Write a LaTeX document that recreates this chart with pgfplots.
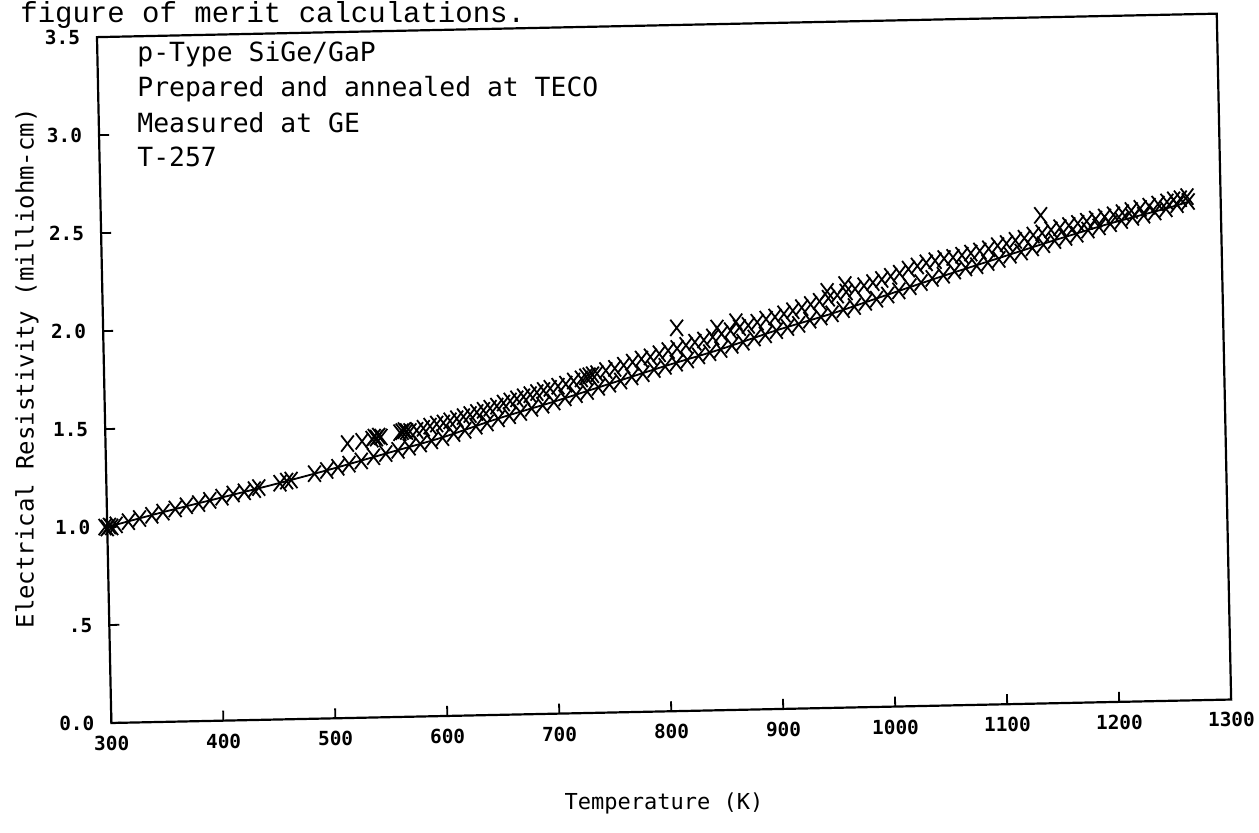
\documentclass[border=0pt]{standalone}
\usepackage{fontspec}
\usepackage{pgfplots}
\usepackage{pgfplotstable}
\pgfplotsset{compat=1.18}
\newfontfamily\plotfont{DejaVu Sans Mono}
\newfontfamily\tickfont{DejaVu Sans Mono Bold}
\newfontfamily\typefont{Liberation Mono}

\pgfplotstableread{
T R
298 1.00
300 0.995
302 1.005
304 1.00
308 1.01
319 1.025
329 1.04
340 1.055
350 1.07
361 1.085
371 1.10
382 1.11
392 1.125
403 1.14
413 1.155
423 1.165
432 1.175
436 1.185
455 1.205
461 1.215
465 1.22
486 1.25
497 1.265
507 1.28
517 1.295
528 1.31
539 1.33
550 1.345
561 1.36
571 1.375
581 1.39
591 1.405
601 1.42
611 1.44
621 1.455
631 1.475
641 1.49
651 1.51
661 1.525
671 1.54
681 1.56
691 1.575
701 1.59
711 1.61
721 1.625
731 1.64
741 1.66
751 1.675
761 1.69
771 1.71
781 1.725
791 1.745
801 1.76
811 1.775
821 1.79
831 1.81
841 1.825
851 1.84
861 1.86
871 1.875
881 1.895
891 1.91
901 1.93
911 1.945
921 1.96
931 1.98
941 1.995
951 2.01
961 2.03
971 2.045
981 2.065
991 2.08
1001 2.10
1011 2.12
1021 2.14
1031 2.16
1041 2.18
1051 2.195
1061 2.215
1071 2.23
1081 2.24
1091 2.255
1101 2.27
1111 2.29
1121 2.305
1131 2.325
1141 2.34
1151 2.36
1161 2.375
1171 2.39
1181 2.41
1191 2.425
1201 2.44
1211 2.455
1221 2.47
1231 2.48
1241 2.495
1251 2.51
1261 2.53
1271 2.545
}\lowband

\pgfplotstableread{
T R
516 1.40
529 1.41
538 1.42
540 1.43
542 1.425
544 1.435
546 1.43
563 1.45
565 1.455
567 1.46
569 1.455
572 1.455
578 1.46
584 1.47
590 1.48
596 1.49
602 1.495
608 1.505
614 1.515
620 1.525
626 1.535
632 1.545
638 1.555
644 1.565
650 1.575
656 1.59
662 1.60
668 1.61
674 1.62
680 1.63
686 1.64
692 1.65
698 1.66
705 1.67
712 1.68
719 1.695
726 1.705
730 1.715
733 1.72
736 1.725
740 1.73
748 1.745
756 1.755
764 1.77
772 1.785
780 1.80
788 1.81
796 1.825
804 1.84
812 1.85
820 1.865
828 1.88
836 1.89
844 1.905
852 1.92
860 1.935
868 1.95
876 1.96
884 1.975
892 1.99
900 2.00
908 2.015
916 2.03
924 2.045
932 2.06
940 2.075
948 2.09
956 2.105
964 2.12
972 2.135
980 2.15
988 2.165
996 2.18
1004 2.195
1012 2.21
1020 2.23
1028 2.245
1036 2.26
1044 2.27
1052 2.28
1060 2.285
1068 2.295
1076 2.305
1084 2.315
1092 2.325
1100 2.34
1108 2.35
1116 2.365
1124 2.375
1132 2.39
1140 2.40
1148 2.415
1156 2.425
1164 2.435
1172 2.445
1180 2.455
1188 2.465
1196 2.475
1204 2.485
1212 2.495
1220 2.505
1228 2.515
1236 2.525
1244 2.535
1252 2.545
1258 2.555
1264 2.56
1270 2.57
}\upband

\pgfplotstableread{
T R
812 1.955
848 1.95
865 1.98
947 2.125
963 2.158
1139 2.49
}\outliers

\pgfplotstableread{
T R
300 1.00
350 1.07
400 1.135
450 1.20
500 1.27
550 1.345
600 1.42
650 1.51
700 1.59
750 1.675
800 1.76
850 1.84
900 1.93
950 2.01
1000 2.10
1050 2.19
1100 2.275
1150 2.36
1200 2.44
1250 2.51
1272 2.545
}\fitline

\begin{document}
\begin{tikzpicture}
\path[use as bounding box] (0,0) rectangle (629.5pt,416.5pt);
\node[anchor=base west, inner sep=0pt, font=\typefont\fontsize{14.5}{16}\selectfont] at (10pt,405pt) {figure of merit calculations.};
\begin{axis}[
  at={(48.5pt,55pt)}, anchor=south west,
  x={(0.55988pt,0.01173pt)}, y={(-2.052pt,97.98pt)},
  xmin=300, xmax=1300, ymin=0, ymax=3.5,
  enlargelimits=false,
  clip=false,
  axis line style={line width=1.1pt},
  every tick/.style={black, line width=0.9pt},
  tick align=inside, tick pos=left,
  major tick length=5pt,
  xtick={300,400,500,600,700,800,900,1000,1100,1200,1300},
  xticklabels={300,400,500,600,700,800,900,1000,1100,1200,1300},
  ytick={0,0.5,1,1.5,2,2.5,3,3.5},
  yticklabels={0.0,.5,1.0,1.5,2.0,2.5,3.0,3.5},
  ticklabel style={font=\tickfont\fontsize{9.7}{11}\selectfont},
  yticklabel style={xshift=-5pt},
  xticklabel style={yshift=-3pt},
  xlabel={Temperature (K)},
  ylabel={Electrical Resistivity (milliohm-cm)},
  xlabel style={font=\plotfont\fontsize{11}{13}\selectfont, at={(axis description cs:0.5,0)}, anchor=center, yshift=-40pt},
  ylabel style={font=\plotfont\fontsize{12}{14}\selectfont, at={(axis description cs:0,0.5)}, anchor=center, yshift=35pt},
]
\addplot[black, line width=0.9pt, smooth, no marks] table[x=T,y=R] {\fitline};
\addplot[black, only marks, mark=x, mark size=5.75pt, mark options={xscale=0.78, line width=0.9pt}] table[x=T,y=R] {\lowband};
\addplot[black, only marks, mark=x, mark size=5.75pt, mark options={xscale=0.78, line width=0.9pt}] table[x=T,y=R] {\upband};
\addplot[black, only marks, mark=x, mark size=5.75pt, mark options={xscale=0.78, line width=0.9pt}] table[x=T,y=R] {\outliers};
\node[anchor=base west, inner sep=0pt, xshift=20pt, yshift=-12pt, font=\plotfont\fontsize{13.2}{15}\selectfont] at (rel axis cs:0,1) {p-Type SiGe/GaP};
\node[anchor=base west, inner sep=0pt, xshift=20pt, yshift=-29.5pt, font=\plotfont\fontsize{13.2}{15}\selectfont] at (rel axis cs:0,1) {Prepared and annealed at TECO};
\node[anchor=base west, inner sep=0pt, xshift=20pt, yshift=-47.5pt, font=\plotfont\fontsize{13.2}{15}\selectfont] at (rel axis cs:0,1) {Measured at GE};
\node[anchor=base west, inner sep=0pt, xshift=20pt, yshift=-64.5pt, font=\plotfont\fontsize{13.2}{15}\selectfont] at (rel axis cs:0,1) {T-257};
\end{axis}
\end{tikzpicture}
\end{document}
